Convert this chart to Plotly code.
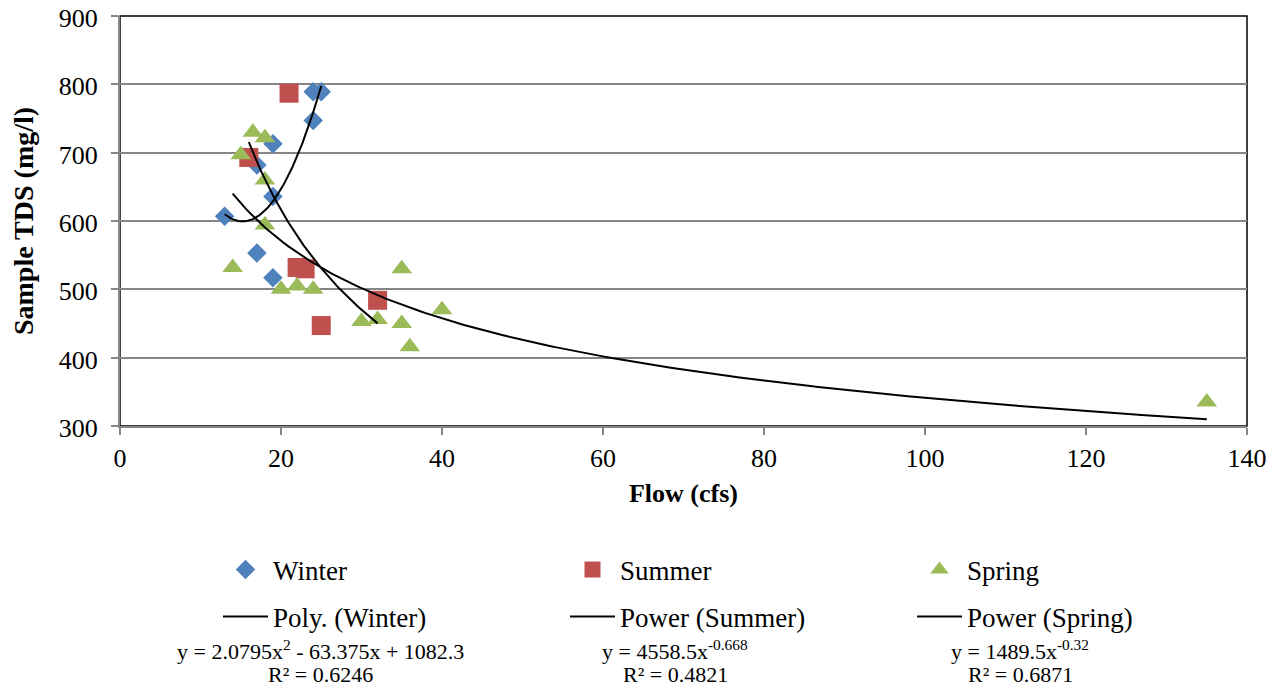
import numpy as np
import plotly.graph_objects as go

# ---- data ----
winter_flow = [24, 25, 24, 19, 17, 19, 13, 17, 19]
winter_tds = [789, 789, 747, 713, 682, 636, 607, 553, 517]

summer_flow = [21, 16, 22, 23, 32, 25]
summer_tds = [787, 693, 532, 530, 484, 447]

spring_flow = [16.5, 18, 15, 18, 18, 14, 20, 22, 24, 30, 32, 35, 35, 36, 40, 135]
spring_tds = [730, 722, 697, 660, 594, 532, 500, 505, 500, 453, 456, 530, 450, 416, 470, 335]

# trendline equations as printed on the chart
winter_poly = [2.0795, -63.375, 1082.3]      # y = a x^2 + b x + c
summer_power = [4558.5, -0.668]              # y = a x^b
spring_power = [1489.5, -0.32]

eq_texts = [
    ("y = 2.0795x<sup>2</sup> - 63.375x + 1082.3", "R² = 0.6246"),
    ("y = 4558.5x<sup>-0.668</sup>", "R² = 0.4821"),
    ("y = 1489.5x<sup>-0.32</sup>", "R² = 0.6871"),
]

C_W, C_S, C_P = "#4F81BD", "#C0504D", "#9BBB59"
FONT = "Times New Roman, Liberation Serif, DejaVu Serif, serif"

fig = go.Figure()
fig.add_trace(go.Scatter(x=winter_flow, y=winter_tds, mode="markers", name="Winter",
                         marker=dict(symbol="diamond", size=15, color=C_W), legend="legend"))
fig.add_trace(go.Scatter(x=summer_flow, y=summer_tds, mode="markers", name="Summer",
                         marker=dict(symbol="square", size=19, color=C_S), legend="legend"))
fig.add_trace(go.Scatter(x=spring_flow, y=spring_tds, mode="markers", name="Spring",
                         marker=dict(symbol="triangle-up", size=18, color=C_P), legend="legend"))

xw = np.linspace(min(winter_flow), max(winter_flow), 100)
yw = np.polyval(winter_poly, xw)
xs = np.linspace(min(summer_flow), max(summer_flow), 100)
ys = summer_power[0] * xs ** summer_power[1]
xp = np.linspace(min(spring_flow), max(spring_flow), 300)
yp = spring_power[0] * xp ** spring_power[1]

for xx, yy, nm in [(xw, yw, "Poly. (Winter)"), (xs, ys, "Power (Summer)"), (xp, yp, "Power (Spring)")]:
    fig.add_trace(go.Scatter(x=xx, y=yy, mode="lines", name=nm,
                             line=dict(color="black", width=2), legend="legend2"))

# plot area frame (top/right dark border)
fig.add_shape(type="rect", xref="paper", yref="paper", x0=0, y0=0, x1=1, y1=1,
              line=dict(color="black", width=1.5), layer="below")

# page offset (body margin) compensation
OX, OY = 8, 8
W, H = 1281, 689
L, R, T, B = 120 - OX, 34 + OX, 16 - OY, 263 + OY
pw = W - L - R
ph = H - T - B

def px_x(p):
    return (p - OX - L) / pw

def px_y(p):
    return (H - B - (p - OY)) / ph

eq_centers = [320, 675, 1020]
for cx, (l1, l2) in zip(eq_centers, eq_texts):
    fig.add_annotation(x=px_x(cx), y=px_y(650), xref="paper", yref="paper", text=l1,
                       showarrow=False, font=dict(family=FONT, size=22, color="black"),
                       xanchor="center", yanchor="middle")
    fig.add_annotation(x=px_x(cx), y=px_y(674), xref="paper", yref="paper", text=l2,
                       showarrow=False, font=dict(family=FONT, size=22, color="black"),
                       xanchor="center", yanchor="middle")

axis_common = dict(showline=True, linecolor="#868686", linewidth=2, ticks="outside",
                   ticklen=7, tickcolor="#868686", tickwidth=1.5, automargin=False,
                   ticklabeloverflow="allow",
                   tickfont=dict(family=FONT, size=26, color="black"), zeroline=False)

fig.update_layout(
    width=W, height=H,
    margin=dict(l=L, r=R, t=T, b=B, autoexpand=False),
    paper_bgcolor="white", plot_bgcolor="white",
    font=dict(family=FONT, color="black"),
    xaxis=dict(range=[0, 140], dtick=20, tick0=0, showgrid=False, ticklabelstandoff=1,
               title=dict(text="<b>Flow (cfs)</b>", font=dict(family=FONT, size=26), standoff=12),
               **axis_common),
    yaxis=dict(range=[300, 900], dtick=100, tick0=300, showgrid=True,
               gridcolor="#868686", gridwidth=1.5, ticklabelstandoff=8, ticklabelshift=2,
               title=dict(text="<b>Sample TDS (mg/l)</b>", font=dict(family=FONT, size=28), standoff=21),
               **axis_common),
    legend=dict(orientation="h", x=px_x(218), y=px_y(570), xanchor="left", yanchor="middle",
                entrywidth=287, entrywidthmode="pixels", itemwidth=45,
                font=dict(family=FONT, size=27, color="black"), bgcolor="rgba(0,0,0,0)"),
    legend2=dict(orientation="h", x=px_x(218), y=px_y(617), xanchor="left", yanchor="middle",
                 entrywidth=287, entrywidthmode="pixels", itemwidth=45,
                 font=dict(family=FONT, size=27, color="black"), bgcolor="rgba(0,0,0,0)"),
    showlegend=True,
)

fig.write_html("out.html")
